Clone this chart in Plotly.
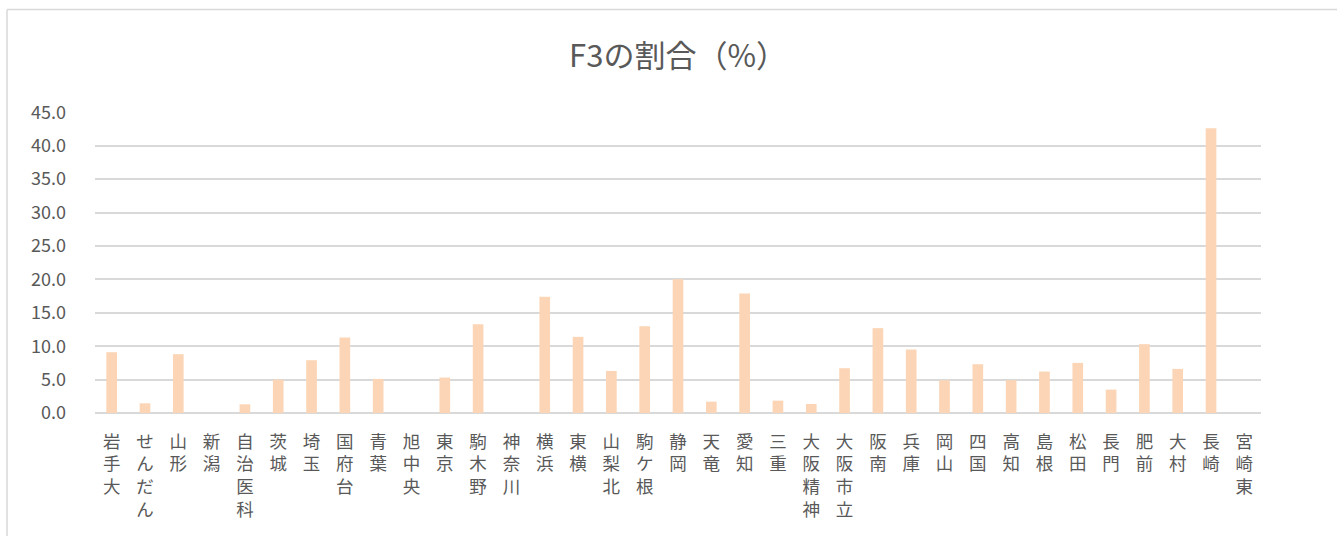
import plotly.graph_objects as go

categories = ["岩手大", "せんだん", "山形", "新潟", "自治医科", "茨城", "埼玉", "国府台", "青葉", "旭中央",
              "東京", "駒木野", "神奈川", "横浜", "東横", "山梨北", "駒ケ根", "静岡", "天竜", "愛知",
              "三重", "大阪精神", "大阪市立", "阪南", "兵庫", "岡山", "四国", "高知", "島根", "松田",
              "長門", "肥前", "大村", "長崎", "宮崎東"]
values = [9.1, 1.45, 8.8, 0.0, 1.3, 5.0, 7.9, 11.3, 5.1, 0.0,
          5.3, 13.3, 0.0, 17.4, 11.4, 6.3, 13.0, 20.0, 1.7, 17.9,
          1.85, 1.35, 6.7, 12.7, 9.5, 4.9, 7.3, 4.9, 6.2, 7.5,
          3.5, 10.3, 6.6, 42.6, 0.0]
y_ticks = [0, 5, 10, 15, 20, 25, 30, 35, 40, 45]
title_text = "F3の割合（%）"

W, H = 1337, 536
L, R, T, B = 95, 1261, 112, 413
pw, ph = R - L, B - T

font_family = "Noto Sans CJK JP, Noto Sans, sans-serif"
text_color = "#595959"

vertical_labels = ["<br>".join(list(c)) for c in categories]

fig = go.Figure()
fig.add_trace(go.Bar(
    x=list(range(len(categories))),
    y=values,
    marker=dict(color="#FBD5B5", line=dict(width=0)),
    width=0.32,
))

def px_x(p):
    return (p - L) / pw

def px_y(p):
    return (B - p) / ph

border = dict(color="#D9D9D9", width=1.5)

fig.update_layout(
    width=W, height=H,
    margin=dict(l=L, r=W - R, t=T, b=H - B, pad=0),
    paper_bgcolor="white",
    plot_bgcolor="white",
    showlegend=False,
    font=dict(family=font_family, color=text_color),
    title=dict(text=title_text, x=0.5, xanchor="center", xref="paper",
               y=1 - 56 / H, yanchor="middle", yref="container",
               font=dict(size=31, color=text_color, family=font_family)),
    xaxis=dict(
        range=[-0.5, len(categories) - 0.5],
        tickmode="array",
        tickvals=list(range(len(categories))),
        ticktext=vertical_labels,
        tickangle=0,
        ticks="",
        showgrid=False,
        showline=False,
        zeroline=False,
        tickfont=dict(size=17.5, color=text_color, family=font_family),
        ticklabelstandoff=16,
    ),
    yaxis=dict(
        range=[0, 45.05],
        tickmode="array",
        tickvals=y_ticks,
        ticktext=[f"{v:.1f}" for v in y_ticks],
        showgrid=True,
        gridcolor="#D9D9D9",
        gridwidth=1.5,
        zeroline=True,
        zerolinecolor="#D9D9D9",
        zerolinewidth=1.5,
        showline=False,
        ticks="",
        tickfont=dict(size=18, color=text_color, family=font_family),
        ticklabelstandoff=28,
    ),
    shapes=[
        dict(type="line", xref="paper", yref="paper",
             x0=px_x(7), x1=px_x(1345), y0=px_y(9.5), y1=px_y(9.5),
             line=border, layer="below"),
        dict(type="line", xref="paper", yref="paper",
             x0=px_x(7), x1=px_x(7), y0=px_y(9.5), y1=px_y(560),
             line=border, layer="below"),
    ],
)

fig.write_html("out.html", config={"displayModeBar": False},
               post_script="document.body.style.margin='0';document.body.style.overflow='hidden';")
